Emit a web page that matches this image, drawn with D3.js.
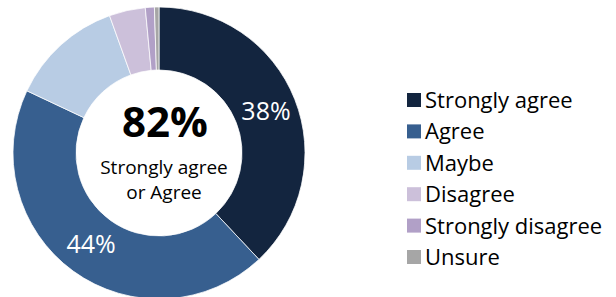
<!DOCTYPE html>
<html>
<head>
<meta charset="utf-8">
<script src="https://cdn.jsdelivr.net/npm/d3@7"></script>
<style>
  body { margin: 0; background: #fff; }
  svg { font-family: "Open Sans", sans-serif; }
</style>
</head>
<body>
<div id="chart"></div>
<script>
var categories = ["Strongly agree", "Agree", "Maybe", "Disagree", "Strongly disagree", "Unsure"];
var values = [38, 44, 12.5, 4, 1, 0.5];
var colors = ["#13253f", "#375f8f", "#b8cce4", "#ccc0da", "#b1a0c7", "#a6a6a6"];
var shownLabels = ["38%", "44%", "", "", "", ""];
var centerBig = "82%";
var centerLines = ["Strongly agree", "or Agree"];

var width = 616, height = 297;
var cx = 159, cy = 153;
var outerR = 146, innerR = 83;

var svg = d3.select("#chart")
  .append("svg")
  .attr("width", width)
  .attr("height", height);

var data = categories.map((c, i) => ({ name: c, value: values[i], color: colors[i], label: shownLabels[i] }));

var pie = d3.pie().sort(null).value((d) => d.value);
var arc = d3.arc().innerRadius(innerR).outerRadius(outerR);

var g = svg.append("g").attr("transform", `translate(${cx},${cy})`);

var arcs = pie(data);

g.selectAll(".slice")
  .data(arcs)
  .enter()
  .append("path")
  .attr("class", "slice")
  .attr("d", arc)
  .attr("fill", (d) => d.data.color)
  .attr("stroke", "#fff")
  .attr("stroke-width", 0.75);

// slice labels (only the two big ones)
var labelPos = { "Strongly agree": [107, -33], "Agree": [-68, 100] };
g.selectAll(".slice-label")
  .data(arcs.filter((d) => d.data.label))
  .enter()
  .append("text")
  .attr("class", "slice-label")
  .attr("x", (d) => labelPos[d.data.name][0])
  .attr("y", (d) => labelPos[d.data.name][1])
  .attr("text-anchor", "middle")
  .attr("fill", "#fff")
  .style("font-size", "25px")
  .text((d) => d.data.label);

// centre text
g.append("text")
  .attr("x", 6)
  .attr("y", -16)
  .attr("text-anchor", "middle")
  .attr("fill", "#000")
  .style("font-size", "42px")
  .style("font-weight", "bold")
  .text(centerBig);

g.selectAll(".center-line")
  .data(centerLines)
  .enter()
  .append("text")
  .attr("class", "center-line")
  .attr("x", 5)
  .attr("y", (d, i) => 21 + i * 25)
  .attr("text-anchor", "middle")
  .attr("fill", "#000")
  .style("font-size", "19px")
  .text((d) => d);

// legend
var legend = svg.append("g").attr("transform", "translate(407,100)");
var rowH = 31.4;
var rows = legend.selectAll(".row")
  .data(data)
  .enter()
  .append("g")
  .attr("class", "row")
  .attr("transform", (d, i) => `translate(0,${i * rowH})`);

rows.append("rect")
  .attr("x", 0)
  .attr("y", -7)
  .attr("width", 14)
  .attr("height", 14)
  .attr("fill", (d) => d.color);

rows.append("text")
  .attr("x", 18)
  .attr("y", 8)
  .attr("fill", "#000")
  .style("font-size", "22px")
  .text((d) => d.name);
</script>
</body>
</html>
